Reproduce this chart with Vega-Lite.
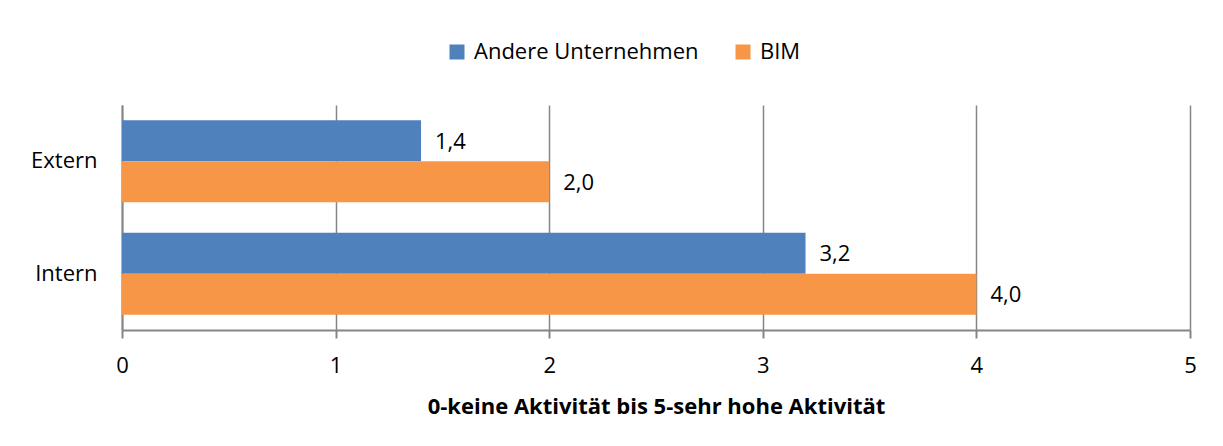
{
  "$schema": "https://vega.github.io/schema/vega-lite/v6.json",
  "width": 1068,
  "height": 225,
  "autosize": "none",
  "padding": {"left": 122, "top": 105, "right": 33, "bottom": 116},
  "background": "white",
  "config": {
    "locale": {"number": {"decimal": ",", "thousands": ".", "grouping": [3], "currency": ["", " €"]}},
    "view": {"stroke": null},
    "font": "Open Sans"
  },
  "data": {
    "values": [
      {"kategorie": "Extern", "gruppe": "Andere Unternehmen", "wert": 1.4},
      {"kategorie": "Extern", "gruppe": "BIM", "wert": 2.0},
      {"kategorie": "Intern", "gruppe": "Andere Unternehmen", "wert": 3.2},
      {"kategorie": "Intern", "gruppe": "BIM", "wert": 4.0}
    ]
  },
  "encoding": {
    "y": {
      "field": "kategorie", "type": "nominal", "sort": ["Extern", "Intern"],
      "scale": {"paddingInner": 0.27, "paddingOuter": 0.135},
      "axis": {
        "title": null, "ticks": false, "labelPadding": 25, "labelFontSize": 22,
        "labelColor": "#000000", "domainColor": "#868686", "domainWidth": 2,
        "labelFont": "Open Sans"
      }
    },
    "yOffset": {"field": "gruppe", "type": "nominal", "sort": ["Andere Unternehmen", "BIM"], "scale": {"paddingInner": 0, "paddingOuter": 0}},
    "x": {
      "field": "wert", "type": "quantitative",
      "scale": {"domain": [0, 5], "nice": false},
      "axis": {
        "values": [0, 1, 2, 3, 4, 5], "format": "d", "labelFlush": false,
        "title": "0-keine Aktivität bis 5-sehr hohe Aktivität",
        "titleFontSize": 22, "titleFontWeight": "bold", "titleColor": "#000000", "titlePadding": 20,
        "labelFontSize": 22, "labelColor": "#000000", "labelPadding": 17,
        "tickSize": 8, "tickColor": "#868686", "tickWidth": 2,
        "domainColor": "#868686", "domainWidth": 2,
        "grid": true, "gridColor": "#868686", "gridWidth": 1.5
      }
    }
  },
  "layer": [
    {
      "mark": {"type": "bar"},
      "encoding": {
        "color": {
          "field": "gruppe", "type": "nominal",
          "scale": {"domain": ["Andere Unternehmen", "BIM"], "range": ["#4F81BD", "#F79646"]},
          "legend": {
            "title": null, "orient": "none", "direction": "horizontal",
            "legendX": 324, "legendY": -64,
            "symbolType": "square", "symbolSize": 225, "symbolStrokeWidth": 0,
            "labelFontSize": 22, "labelColor": "#000000", "labelFont": "Open Sans",
            "labelLimit": 400, "columnPadding": 33, "labelOffset": 6
          }
        }
      }
    },
    {
      "mark": {"type": "text", "align": "left", "baseline": "middle", "dx": 14, "dy": 1, "fontSize": 22, "color": "#000000"},
      "encoding": {
        "text": {"field": "wert", "type": "quantitative", "format": ".1f"}
      }
    }
  ]
}
